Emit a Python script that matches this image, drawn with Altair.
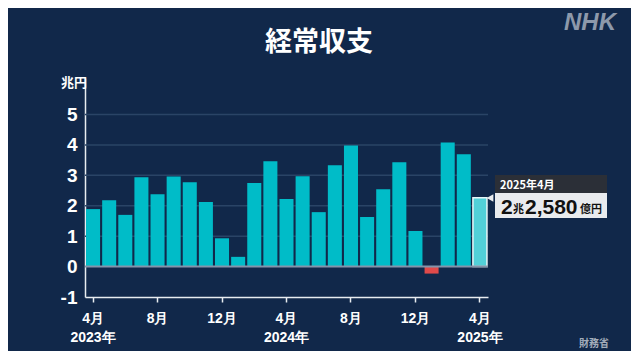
import altair as alt
import pandas as pd

months = ["2023-04", "2023-05", "2023-06", "2023-07", "2023-08", "2023-09", "2023-10",
          "2023-11", "2023-12", "2024-01", "2024-02", "2024-03", "2024-04", "2024-05",
          "2024-06", "2024-07", "2024-08", "2024-09", "2024-10", "2024-11", "2024-12",
          "2025-01", "2025-02", "2025-03", "2025-04"]
values = [1.89, 2.18, 1.70, 2.94, 2.38, 2.96, 2.77, 2.12, 0.93, 0.32, 2.75, 3.46, 2.22,
          2.97, 1.79, 3.33, 3.98, 1.63, 2.54, 3.43, 1.17, -0.23, 4.08, 3.69, 2.26]
tick_months = ["2023-04", "2023-08", "2023-12", "2024-04", "2024-08", "2024-12", "2025-04"]
y_ticks = [-1, 0, 1, 2, 3, 4, 5]
grid_values = [1, 2, 3, 4, 5]

kinds = ["neg" if v < 0 else "pos" for v in values]
kinds[-1] = "last"
df = pd.DataFrame({"month": months, "value": values, "kind": kinds})

BG = "#11284a"
W, H = 403, 219

yscale = alt.Scale(domain=[-1, 6.2], nice=False, zero=False)
yaxis = alt.Axis(title=None, values=y_ticks, labelColor="white",
                 labelExpr="replace(datum.label, '−', '-')",
                 labelFont="Liberation Sans", labelFontWeight="bold", labelFontSize=19,
                 labelPadding=8, tickSize=0, domainColor="#e8ecf0", domainWidth=1.5,
                 grid=False)

x = alt.X("month:O", sort=months,
          scale=alt.Scale(paddingInner=0.13, paddingOuter=0.065),
          axis=alt.Axis(title=None, values=tick_months, labelAngle=0,
                        labelExpr="[toNumber(slice(datum.value,5)) + '月', slice(datum.value,5)=='04' ? slice(datum.value,0,4) + '年' : '']",
                        labelColor="white", labelFont="Liberation Sans", labelFontWeight="bold",
                        labelFontSize=14, labelLineHeight=19, labelPadding=9, labelBaseline="top",
                        domainColor="#e8ecf0", domainWidth=1.5, tickColor="#e8ecf0",
                        tickWidth=1.5, tickSize=5, grid=False))
y = alt.Y("value:Q", scale=yscale, axis=yaxis)

grid = alt.Chart(pd.DataFrame({"value": grid_values})).mark_rule(color="#2a4466", strokeWidth=1.5).encode(
    y=alt.Y("value:Q", scale=yscale, axis=yaxis))

bars = alt.Chart(df).mark_bar().encode(
    x=x, y=y, y2=alt.datum(0),
    color=alt.Color("kind:N", scale=alt.Scale(domain=["pos", "neg", "last"],
                                              range=["#00bcc8", "#e04a4a", "#52d0d8"]), legend=None),
    stroke=alt.value("#e8f7f8"),
    strokeWidth=alt.condition("datum.kind == 'last'", alt.value(1.5), alt.value(0)),
)

zero = alt.Chart(pd.DataFrame({"value": [0]})).mark_rule(color="#8494aa", strokeWidth=2).encode(
    y=alt.Y("value:Q", scale=yscale, axis=yaxis))

one = pd.DataFrame({"a": [0]})

def txt(text, xv, yv, size, color="white", align="left", weight="bold", style="normal", baseline="alphabetic"):
    return alt.Chart(one).mark_text(text=text, align=align, baseline=baseline, fontSize=size,
                                    fontWeight=weight, fontStyle=style, color=color,
                                    font="Noto Sans CJK JP").encode(x=alt.value(xv), y=alt.value(yv))

title = txt("経常収支", 234, -27, 27, align="center")
nhk = alt.Chart(one).mark_text(text="NHK", align="center", baseline="alphabetic", fontSize=24,
                               fontWeight="bold", fontStyle="italic", color="#8d99ab",
                               font="Liberation Sans").encode(x=alt.value(505), y=alt.value(-48))
unit = txt("兆円", -24, 9, 13)
source = txt("財務省", 509, 269, 10, color="#a3adbb", align="center")

box_dark = alt.Chart(one).mark_rect(color="#2b2f37").encode(
    x=alt.value(410), x2=alt.value(522), y=alt.value(97), y2=alt.value(115))
box_light = alt.Chart(one).mark_rect(color="#e9ebee").encode(
    x=alt.value(410), x2=alt.value(522), y=alt.value(115), y2=alt.value(140))
pointer = alt.Chart(one).mark_point(shape="triangle-left", filled=True, color="#e9ebee",
                                    size=60, opacity=1).encode(x=alt.value(405), y=alt.value(120))
date_lbl = txt("2025年4月", 415, 111, 11)
v1 = alt.Chart(one).mark_text(text="2", align="left", baseline="alphabetic", fontSize=21,
                              fontWeight="bold", color="#111", font="Liberation Sans").encode(
    x=alt.value(416), y=alt.value(136))
v2 = txt("兆", 428, 135, 11, color="#111")
v3 = alt.Chart(one).mark_text(text="2,580", align="left", baseline="alphabetic", fontSize=21,
                              fontWeight="bold", color="#111", font="Liberation Sans").encode(
    x=alt.value(440), y=alt.value(136))
v4 = txt("億円", 495, 135, 11, color="#111")

chart = alt.layer(grid, bars, zero, title, nhk, unit, source, box_dark, box_light, pointer,
                  date_lbl, v1, v2, v3, v4).properties(
    width=W, height=H, background=BG,
    autosize=alt.AutoSizeParams(type="none"),
    padding={"left": 77, "top": 70, "right": 143, "bottom": 54},
).configure_view(stroke=None)

chart.save("out.html", embed_options={"renderer": "svg", "actions": False})
